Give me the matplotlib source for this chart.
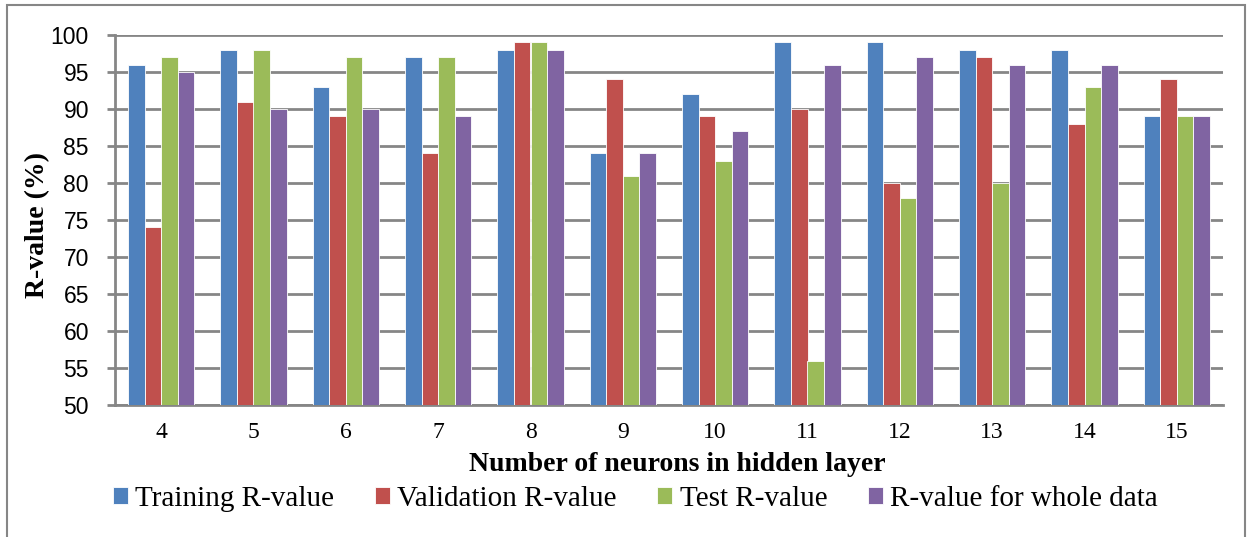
import numpy as np
import matplotlib.pyplot as plt
from matplotlib.patches import Rectangle

neurons = ['4', '5', '6', '7', '8', '9', '10', '11', '12', '13', '14', '15']
training = [96, 98, 93, 97, 98, 84, 92, 99, 99, 98, 98, 89]
validation = [74, 91, 89, 84, 99, 94, 89, 90, 80, 97, 88, 94]
test = [97, 98, 97, 97, 99, 81, 83, 56, 78, 80, 93, 89]
whole = [95, 90, 90, 89, 98, 84, 87, 96, 97, 96, 96, 89]

series = [
    ('Training R-value', training, '#4F81BD'),
    ('Validation R-value', validation, '#C0504D'),
    ('Test R-value', test, '#9BBB59'),
    ('R-value for whole data', whole, '#8064A2'),
]

serif = 'Liberation Serif'

fig = plt.figure(figsize=(12.52, 5.37), dpi=100)
ax = fig.add_axes([115 / 1252, 1 - 405 / 537, 1108 / 1252, 370 / 537])

x = np.arange(len(neurons))
w = 0.179
for i, (name, vals, col) in enumerate(series):
    ax.bar(x + (i - 1.5) * w, np.array(vals) - 50, bottom=50, width=w,
           color=col, edgecolor='white', linewidth=0.6, label=name, zorder=3)

ax.set_xlim(-0.5, len(neurons) - 0.5)
ax.set_ylim(50, 100)
ax.set_yticks(range(50, 101, 5))
ax.set_xticks(x)
ax.set_xticklabels(neurons, family=serif, fontsize=17)
for lab in ax.get_yticklabels():
    lab.set_family('Liberation Sans')
    lab.set_fontsize(16.5)

ax.grid(axis='y', color='#868686', linewidth=2, zorder=0)
for s in ['top', 'right']:
    ax.spines[s].set_visible(False)
for s in ['left', 'bottom']:
    ax.spines[s].set_color('#868686')
    ax.spines[s].set_linewidth(2)
ax.tick_params(axis='y', length=5.8, width=2, color='#868686', pad=13)
ax.tick_params(axis='x', length=0, pad=12)

ax.set_ylabel('R-value (%)', family=serif, fontweight='bold', fontsize=20,
              ha='center', va='center')
ax.yaxis.set_label_coords(-0.0695, 0.486)
ax.set_xlabel('Number of neurons in hidden layer', family=serif,
              fontweight='bold', fontsize=20, va='center')
ax.xaxis.set_label_coords(0.5077, -0.1595)

fig.legend(loc='center', bbox_to_anchor=(0.5076, 0.071), ncol=4,
           frameon=False, prop={'family': serif, 'size': 21},
           handlelength=0.51, handleheight=0.51, handletextpad=0.25,
           columnspacing=1.4, borderaxespad=0, borderpad=0)

# thin gray frame around the whole chart
fig.patches.append(Rectangle((7 / 1252, -0.05), 1238 / 1252, 1.05 - 5 / 537,
                             transform=fig.transFigure, fill=False,
                             edgecolor='#868686', linewidth=1.5))

fig.savefig('out.png', dpi=100)
